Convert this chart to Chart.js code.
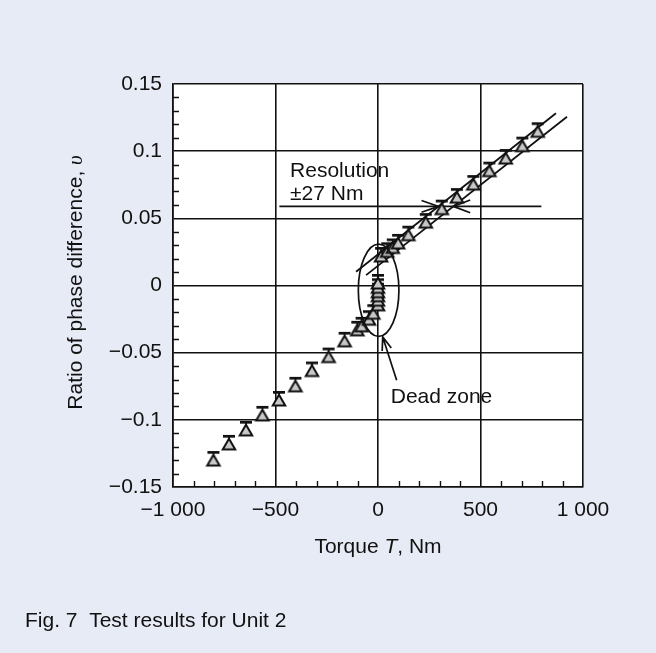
<!DOCTYPE html>
<html><head><meta charset="utf-8">
<script src="https://cdn.jsdelivr.net/npm/chart.js@4.4.1/dist/chart.umd.min.js"></script>
<style>html,body{margin:0;padding:0;background:#e7ebf5;}canvas{display:block}</style>
</head><body>
<canvas id="c" width="656" height="653"></canvas>
<script>
// ---- data ----
const lowerTorque = [-803, -727, -644, -564, -483, -403, -322, -241, -163, -101, -80, -44, -23, 0];
const lowerRatio  = [-0.1314, -0.1194, -0.1090, -0.0978, -0.0867, -0.0762, -0.0648, -0.0544, -0.0427, -0.0345, -0.0315, -0.0266, -0.0221, -0.0159];
const deadTorque  = [0, 0, 0, 0, 0];
const deadRatio   = [-0.0124, -0.0091, -0.0061, -0.0028, 0.0004];
const upperTorque = [15, 45, 72, 98, 148, 233, 311, 385, 465, 543, 623, 704, 779];
const upperRatio  = [0.0205, 0.0240, 0.0268, 0.0302, 0.0363, 0.0457, 0.0557, 0.0643, 0.0740, 0.0840, 0.0934, 0.1026, 0.1133];
const fitATorque  = [-107, 868];
const fitARatio   = [0.0102, 0.1282];
const fitBTorque  = [-58, 922];
const fitBRatio   = [0.0077, 0.1256];
const resTorque   = [-481, 797];
const resRatio    = [0.0589, 0.0589];
const xTickValues = [-1000, -500, 0, 500, 1000];
const xTickLabels = ['\u22121 000', '\u2212500', '0', '500', '1 000'];
const yTickValues = [-0.15, -0.1, -0.05, 0, 0.05, 0.1, 0.15];
const yTickLabels = ['\u22120.15', '\u22120.1', '\u22120.05', '0', '0.05', '0.1', '0.15'];

// ---- styles ----
const INK = '#111111';
const BG = '#e7ebf5';
const FONT = '"Liberation Sans", Arial, Helvetica, sans-serif';
const FS = 21;

function labelFor(v, vals, labs, tol) {
  for (let i = 0; i < vals.length; i++) if (Math.abs(v - vals[i]) < tol) return labs[i];
  return null;
}

// marker: grey triangle with error-bar cap above it
function makeMarker() {
  const c = document.createElement('canvas');
  c.width = 20; c.height = 26;
  const g = c.getContext('2d');
  const cx = 10, cy = 13, r = 7.2;
  g.beginPath();
  g.moveTo(cx, cy - r);
  g.lineTo(cx + r * Math.sin(2 * Math.PI / 3), cy + r * 0.5);
  g.lineTo(cx - r * Math.sin(2 * Math.PI / 3), cy + r * 0.5);
  g.closePath();
  g.fillStyle = '#c8c8c8'; g.fill();
  g.lineWidth = 2.0; g.strokeStyle = INK; g.lineJoin = 'miter'; g.stroke();
  g.fillStyle = INK;
  g.fillRect(cx - 6, 2.0, 12, 2.7);
  g.fillRect(cx - 0.8, 3.5, 1.6, 2.5);
  return c;
}
const marker = makeMarker();

function pts(ts, vs) { return ts.map((t, i) => ({x: t, y: vs[i]})); }

const pointsData = pts(lowerTorque, lowerRatio).concat(pts(deadTorque, deadRatio), pts(upperTorque, upperRatio));

const lineDs = (d) => ({type: 'line', data: d, showLine: true, borderColor: INK, borderWidth: 1.8, pointRadius: 0, fill: false, tension: 0});

const bgPlugin = {
  id: 'bg',
  beforeDraw(chart) {
    const {ctx, chartArea: a} = chart;
    ctx.save();
    ctx.fillStyle = BG; ctx.fillRect(0, 0, chart.width, chart.height);
    ctx.fillStyle = '#ffffff'; ctx.fillRect(a.left, a.top, a.right - a.left, a.bottom - a.top);
    ctx.restore();
  }
};

const minorTicks = {
  id: 'minorTicks',
  beforeDatasetsDraw(chart) {
    const {ctx, chartArea: a, scales: {x, y}} = chart;
    ctx.save();
    ctx.strokeStyle = INK; ctx.lineWidth = 1.4;
    ctx.beginPath();
    y.ticks.forEach(t => {
      if (labelFor(t.value, yTickValues, yTickLabels, 1e-6) === null) {
        const py = Math.round(y.getPixelForValue(t.value)) + 0.5;
        ctx.moveTo(a.left, py); ctx.lineTo(a.left + 6, py);
      }
    });
    x.ticks.forEach(t => {
      if (labelFor(t.value, xTickValues, xTickLabels, 1e-3) === null) {
        const px = Math.round(x.getPixelForValue(t.value)) + 0.5;
        ctx.moveTo(px, a.bottom); ctx.lineTo(px, a.bottom - 6);
      }
    });
    ctx.stroke();
    ctx.restore();
  }
};

function arrowHead(ctx, tx, ty, fx, fy, len, ang) {
  const d = Math.atan2(fy - ty, fx - tx);
  ctx.moveTo(tx + len * Math.cos(d + ang), ty + len * Math.sin(d + ang));
  ctx.lineTo(tx, ty);
  ctx.lineTo(tx + len * Math.cos(d - ang), ty + len * Math.sin(d - ang));
}

// annotation anchors (data coordinates)
const ellipseCenter = {x: 3, y: -0.0035}, ellipseRadius = {x: 99, y: 0.0343};
const deadArrowFrom = {x: 91, y: -0.0706}, deadArrowTip = {x: 23, y: -0.0383};
const resTextAt = {x: -429, y: 0.0805}, resText2At = {x: -429, y: 0.0636};
const deadTextAt = {x: 62, y: -0.0875};

const annot = {
  id: 'annot',
  afterDatasetsDraw(chart) {
    const {ctx, scales: {x, y}} = chart;
    ctx.save();
    ctx.strokeStyle = INK; ctx.lineWidth = 1.7;
    // ellipse (dead zone)
    const ex = x.getPixelForValue(ellipseCenter.x), ey = y.getPixelForValue(ellipseCenter.y);
    const rx = Math.abs(x.getPixelForValue(ellipseCenter.x + ellipseRadius.x) - ex);
    const ry = Math.abs(y.getPixelForValue(ellipseCenter.y + ellipseRadius.y) - ey);
    ctx.beginPath(); ctx.ellipse(ex, ey, rx, ry, 0, 0, Math.PI * 2); ctx.stroke();
    // resolution arrowheads at intersections with the two fit lines
    const rv = resRatio[0];
    const tA = fitATorque[0] + (rv - fitARatio[0]) * (fitATorque[1] - fitATorque[0]) / (fitARatio[1] - fitARatio[0]);
    const tB = fitBTorque[0] + (rv - fitBRatio[0]) * (fitBTorque[1] - fitBTorque[0]) / (fitBRatio[1] - fitBRatio[0]);
    const py = y.getPixelForValue(rv);
    const pa = x.getPixelForValue(tA), pb = x.getPixelForValue(tB);
    ctx.beginPath();
    arrowHead(ctx, pa, py, pa - 10, py, 18, 0.33);
    arrowHead(ctx, pb, py, pb + 10, py, 18, 0.36);
    // dead-zone arrow
    const fx = x.getPixelForValue(deadArrowFrom.x), fy = y.getPixelForValue(deadArrowFrom.y);
    const tx = x.getPixelForValue(deadArrowTip.x), ty = y.getPixelForValue(deadArrowTip.y);
    ctx.moveTo(fx, fy); ctx.lineTo(tx, ty);
    arrowHead(ctx, tx, ty, fx, fy, 14, 0.35);
    ctx.stroke();
    // texts
    ctx.fillStyle = INK;
    ctx.font = FS + 'px ' + FONT;
    ctx.textBaseline = 'alphabetic'; ctx.textAlign = 'left';
    ctx.fillText('Resolution', x.getPixelForValue(resTextAt.x), y.getPixelForValue(resTextAt.y));
    ctx.fillText('\u00b127 Nm', x.getPixelForValue(resText2At.x), y.getPixelForValue(resText2At.y));
    ctx.fillText('Dead zone', x.getPixelForValue(deadTextAt.x), y.getPixelForValue(deadTextAt.y));
    ctx.restore();
  },
  afterDraw(chart) {
    const {ctx, chartArea: a} = chart;
    ctx.save();
    ctx.fillStyle = INK;
    ctx.textBaseline = 'alphabetic';
    const sans = FS + 'px ' + FONT;
    const ital = 'italic ' + FS + 'px ' + FONT;
    // x title
    const parts = [['Torque ', sans], ['T', ital], [', Nm', sans]];
    let w = 0;
    parts.forEach(p => { ctx.font = p[1]; w += ctx.measureText(p[0]).width; });
    let cx = (a.left + a.right) / 2 - w / 2;
    parts.forEach(p => { ctx.font = p[1]; ctx.fillText(p[0], cx, 552.5); cx += ctx.measureText(p[0]).width; });
    // y title
    const yparts = [['Ratio of phase difference, ', sans], ['\u03c5', 'italic ' + FS + 'px "Liberation Serif", "DejaVu Serif", serif']];
    w = 0;
    yparts.forEach(p => { ctx.font = p[1]; w += ctx.measureText(p[0]).width; });
    ctx.translate(82, (a.top + a.bottom) / 2 - 3);
    ctx.rotate(-Math.PI / 2);
    let cy = -w / 2;
    yparts.forEach(p => { ctx.font = p[1]; ctx.fillText(p[0], cy, 0); cy += ctx.measureText(p[0]).width; });
    ctx.restore();
    // caption
    ctx.save();
    ctx.fillStyle = INK; ctx.font = FS + 'px ' + FONT; ctx.textBaseline = 'alphabetic';
    ctx.fillText('Fig. 7  Test results for Unit 2', 25, 627);
    ctx.restore();
  }
};

new Chart(document.getElementById('c'), {
  type: 'scatter',
  data: {
    datasets: [
      {data: pointsData, pointStyle: marker, pointRadius: 7, pointHoverRadius: 7, showLine: false},
      lineDs(pts(fitATorque, fitARatio)),
      lineDs(pts(fitBTorque, fitBRatio)),
      lineDs(pts(resTorque, resRatio))
    ]
  },
  options: {
    responsive: false,
    animation: false,
    events: [],
    layout: {padding: {left: 0, top: 84, right: 73, bottom: 0}},
    plugins: {legend: {display: false}, tooltip: {enabled: false}, title: {display: false}},
    scales: {
      x: {
        type: 'linear', min: -1000, max: 1000,
        afterFit(s) { s.height = 166; },
        ticks: {
          stepSize: 100, autoSkip: false, maxRotation: 0, padding: 11,
          color: INK, font: {family: FONT, size: FS},
          callback: (v) => { const l = labelFor(v, xTickValues, xTickLabels, 1e-3); return l === null ? '' : l; }
        },
        grid: {
          drawTicks: false, lineWidth: 1.6,
          color: (c) => (c.tick && labelFor(c.tick.value, xTickValues, xTickLabels, 1e-3) !== null) ? INK : 'rgba(0,0,0,0)'
        },
        border: {color: INK, width: 1.6}
      },
      y: {
        type: 'linear', min: -0.15, max: 0.15,
        afterFit(s) { s.width = 173; },
        ticks: {
          stepSize: 0.01, autoSkip: false, padding: 11,
          color: INK, font: {family: FONT, size: FS},
          callback: (v) => { const l = labelFor(v, yTickValues, yTickLabels, 1e-6); return l === null ? '' : l; }
        },
        grid: {
          drawTicks: false, lineWidth: 1.6,
          color: (c) => (c.tick && labelFor(c.tick.value, yTickValues, yTickLabels, 1e-6) !== null) ? INK : 'rgba(0,0,0,0)'
        },
        border: {color: INK, width: 1.6}
      }
    }
  },
  plugins: [bgPlugin, minorTicks, annot]
});
</script>
</body></html>
